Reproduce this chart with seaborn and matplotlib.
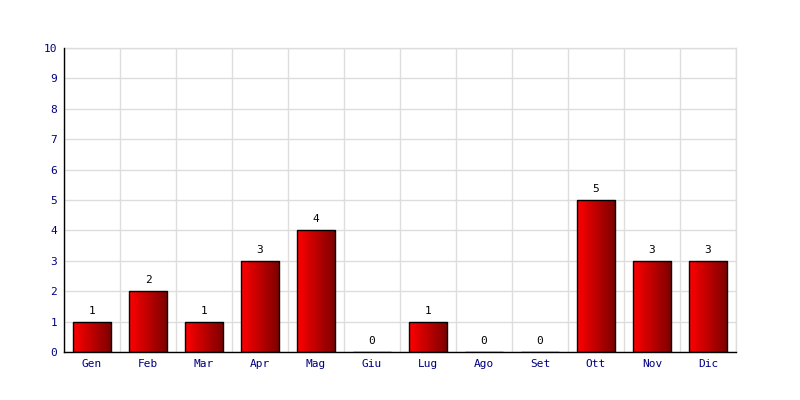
import matplotlib
matplotlib.use("Agg")
import matplotlib.pyplot as plt
import seaborn as sns
import numpy as np
import pandas as pd
from matplotlib.colors import LinearSegmentedColormap

# dati del grafico
mesi = ['Gen', 'Feb', 'Mar', 'Apr', 'Mag', 'Giu', 'Lug', 'Ago', 'Set', 'Ott', 'Nov', 'Dic']
valori = [1, 2, 1, 3, 4, 0, 1, 0, 0, 5, 3, 3]
y_ticks = list(range(0, 11))

df = pd.DataFrame({'mese': mesi, 'valore': valori})

sns.set_style('white')
plt.rcParams['font.family'] = ['DejaVu Sans Mono']

fig = plt.figure(figsize=(8, 4), dpi=100)
ax = fig.add_axes([0.08, 0.12, 0.84, 0.76])

sns.barplot(data=df, x='mese', y='valore', ax=ax, width=0.68,
            color='#cc0000', edgecolor='black', linewidth=1, zorder=3)

# gradiente rosso -> rosso scuro dentro ogni barra
cmap = LinearSegmentedColormap.from_list('rosso', ['#ff0000', '#7a0000'])
grad = np.linspace(0, 1, 256).reshape(1, -1)
for p in ax.patches:
    x, y = p.get_xy()
    w, h = p.get_width(), p.get_height()
    if h <= 0:
        continue
    im = ax.imshow(grad, cmap=cmap, aspect='auto', extent=[x, x + w, y, y + h],
                   zorder=3.5, interpolation='bicubic')
    im.set_clip_path(p)
    p.set_facecolor('none')
    p.set_zorder(4)

# etichette dei valori
for i, v in enumerate(valori):
    ax.text(i, v + 0.2, str(v), ha='center', va='bottom', fontsize=8, color='black')

ax.set_xlim(-0.5, len(mesi) - 0.5)
ax.set_ylim(0, 10)
ax.set_yticks(y_ticks)
ax.set_xticks(np.arange(-0.5, len(mesi), 1.0), minor=True)
ax.grid(True, which='major', axis='y', color='#dddddd', linewidth=1, zorder=0)
ax.grid(True, which='minor', axis='x', color='#dddddd', linewidth=1, zorder=0)
ax.set_axisbelow(True)

ax.tick_params(axis='both', which='both', length=0, labelsize=8, labelcolor='#000080', pad=5)
ax.set_xlabel('')
ax.set_ylabel('')

for s in ['top', 'right']:
    ax.spines[s].set_color('#dddddd')
    ax.spines[s].set_linewidth(1)
for s in ['left', 'bottom']:
    ax.spines[s].set_color('black')
    ax.spines[s].set_linewidth(1)
    ax.spines[s].set_zorder(5)

fig.savefig('out.png', dpi=100)
